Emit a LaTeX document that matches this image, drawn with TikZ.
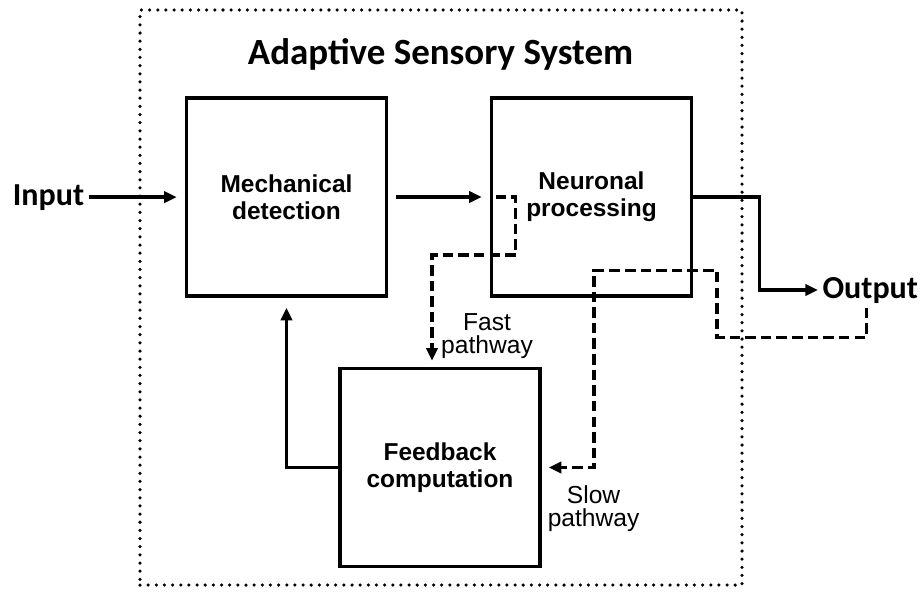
\documentclass[tikz,border=0pt]{standalone}
\usepackage{fontspec}
\setmainfont{Liberation Sans}
\newfontfamily\calibfont{Carlito}
\usetikzlibrary{arrows.meta, positioning, calc}
\tikzset{block/.style={rectangle,draw,line width=2.6pt,minimum width=5cm,minimum height=4.95cm,align=center,font=\fontsize{17.4}{19}\selectfont\bfseries},
         arrow/.style={-{Triangle[length=9pt,width=8pt]},line width=2.5pt},
         dasharrow/.style={arrow,dash pattern=on 7.5pt off 3.6pt},
         boundary/.style={draw,line width=2.5pt,line cap=round,dash pattern=on 0pt off 5.8pt},
         pathlabel/.style={align=center,inner sep=0pt,font=\fontsize{17.5}{16.3}\selectfont},
         ioterm/.style={inner sep=3pt,font=\calibfont\fontsize{22.8}{24}\selectfont\bfseries}}
\begin{document}
\begin{tikzpicture}
    \useasboundingbox (0,0) rectangle (23,-14.8);
    % System boundary
    \node (boundary) [boundary, minimum width=15.05cm, minimum height=14.375cm] at (11.025,-7.4375) {};
    \node (title) [anchor=base, font=\calibfont\fontsize{26.3}{28}\selectfont\bfseries] at (11.0125,-1.6) {Adaptive Sensory System};
    % Blocks
    \node (mech) [block] at (7.1625,-4.925) {Mechanical\\detection};
    \node (neuron) [block] at (14.7875,-4.925) {Neuronal\\processing};
    \node (fb) [block] at (11.0,-11.6875) {Feedback\\computation};
    % Input and output
    \node (input) [ioterm, anchor=base] at (1.2125,-5.125) {Input};
    \node (output) [ioterm, anchor=base west] at (20.45,-7.45) {Output};
    % Pathway labels
    \node (fastlabel) [pathlabel] at (12.175,-8.4) {Fast\\pathway};
    \node (slowlabel) [pathlabel] at (14.84,-12.725) {Slow\\pathway};
    % Solid connections
    \draw[arrow, shorten >=0.2cm] (input.east) -- (input.east -| mech.west);
    \draw[arrow, shorten <=0.2cm, shorten >=0.2cm] (mech.east) -- (neuron.west);
    \draw[arrow] (neuron.east) -- ++(1.65,0) |- (output.west);
    \draw[arrow, shorten >=0.25cm] (fb.west) -| (mech.south);
    % Fast and slow pathways
    \draw[dasharrow, shorten >=0.15cm] ([xshift=0.15cm]neuron.west) -- ++(0.5,0) -- ++(0,-1.45) -| ([xshift=-0.2cm]fb.north);
    \draw[dasharrow, shorten >=0.175cm] ([xshift=-0.1cm]output.south) -- ++(0,-0.75) -- ++(-3.725,0) -- ++(0,1.675) -- ++(-3.075,0) |- (fb.east);
\end{tikzpicture}
\end{document}
